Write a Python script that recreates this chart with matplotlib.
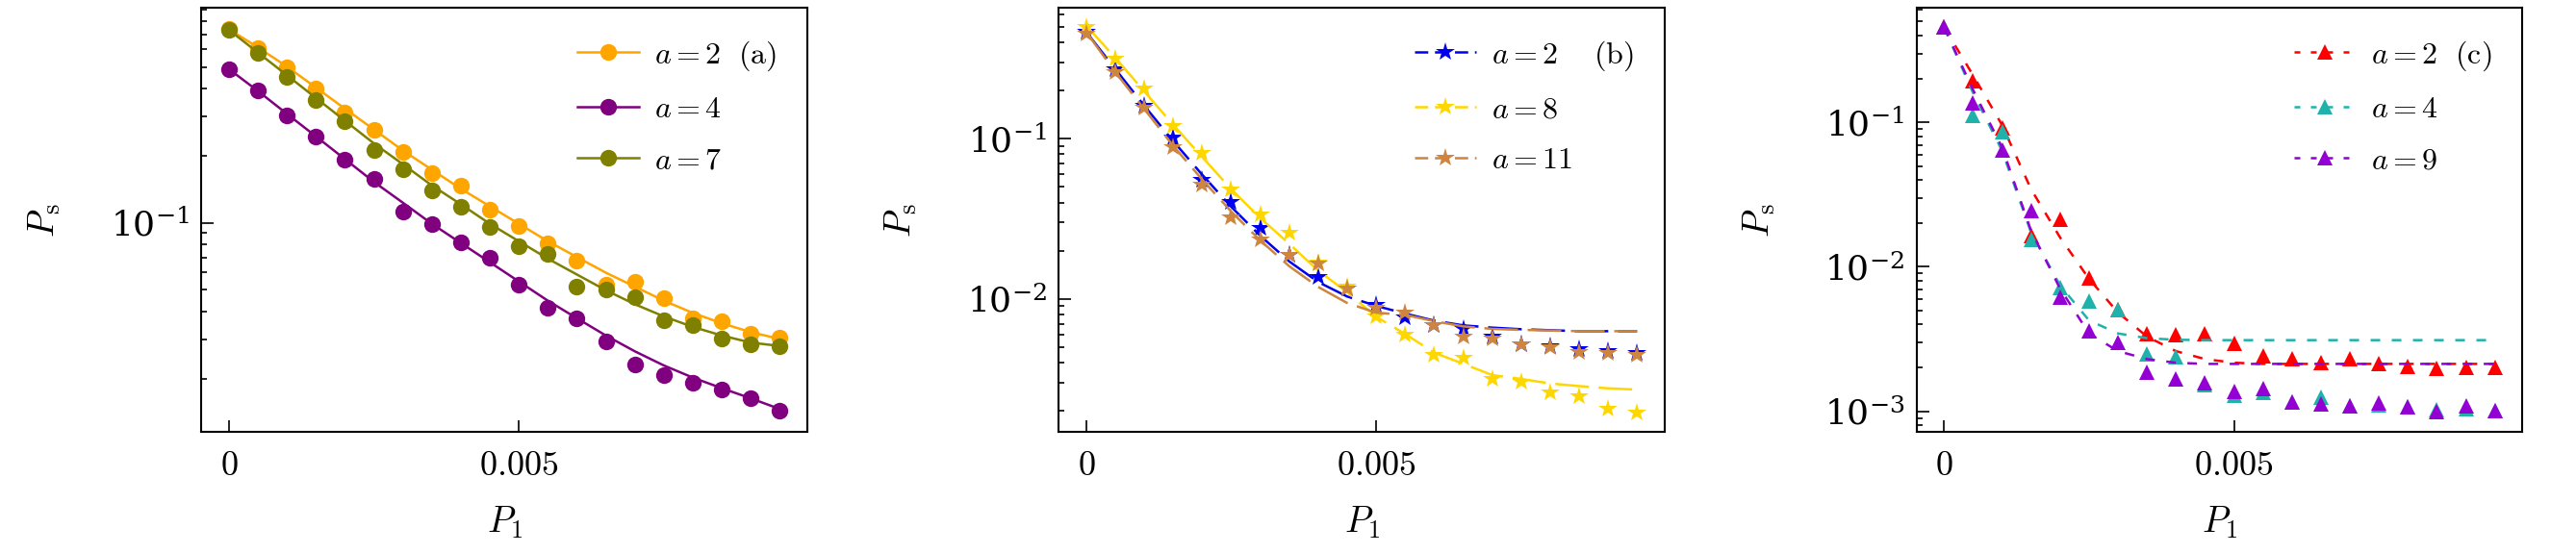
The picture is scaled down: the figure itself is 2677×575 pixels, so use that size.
import matplotlib
matplotlib.use('Agg')
import matplotlib.pyplot as plt
from matplotlib.lines import Line2D
from matplotlib.ticker import LogLocator, NullFormatter

plt.rcParams['mathtext.fontset'] = 'cm'
plt.rcParams['font.family'] = 'serif'

P1 = [0, 0.0005, 0.001, 0.0015, 0.002, 0.0025, 0.003, 0.0035, 0.004, 0.0045,
      0.005, 0.0055, 0.006, 0.0065, 0.007, 0.0075, 0.008, 0.0085, 0.009, 0.0095]

# panel (a): simulated points and fitted curves
a2_pts = [0.7385, 0.608, 0.497, 0.400, 0.311, 0.262, 0.207, 0.167, 0.147, 0.114,
          0.0965, 0.0805, 0.0677, 0.0526, 0.0545, 0.0459, 0.0373, 0.0360, 0.0317, 0.0304]
a2_fit = [0.7385, 0.612, 0.502, 0.404, 0.325, 0.262, 0.211, 0.173, 0.142, 0.1185,
          0.0989, 0.0826, 0.0702, 0.0597, 0.0517, 0.0447, 0.0394, 0.0354, 0.0323, 0.0301]
a4_pts = [0.489, 0.393, 0.303, 0.243, 0.1915, 0.158, 0.112, 0.0989, 0.0817, 0.0697,
          0.0526, 0.0416, 0.0373, 0.0293, 0.0231, 0.0207, 0.0191, 0.0178, 0.0163, 0.0143]
a4_fit = [0.489, 0.390, 0.308, 0.244, 0.193, 0.1525, 0.123, 0.0989, 0.0811, 0.0665,
          0.0545, 0.0447, 0.0373, 0.0312, 0.0265, 0.0229, 0.0202, 0.0181, 0.0163, 0.0146]
a7_pts = [0.733, 0.580, 0.450, 0.354, 0.285, 0.211, 0.174, 0.140, 0.1185, 0.0954,
          0.0782, 0.0728, 0.0517, 0.0504, 0.0464, 0.0364, 0.0347, 0.0301, 0.0285, 0.0280]
a7_fit = [0.733, 0.580, 0.459, 0.363, 0.287, 0.227, 0.183, 0.147, 0.121, 0.0989,
          0.0826, 0.069, 0.0586, 0.0498, 0.0431, 0.0380, 0.0341, 0.0312, 0.0290, 0.0280]

# panel (b)
b2_pts = [0.465, 0.273, 0.161, 0.1014, 0.0556, 0.0403, 0.0276, 0.0188, 0.01365, 0.0116,
          0.00920, 0.00766, 0.00683, 0.00651, 0.00581, 0.00518, 0.00506, 0.00483, 0.00472, 0.00461]
b2_fit = [0.465, 0.273, 0.161, 0.0967, 0.0596, 0.0376, 0.0248, 0.01714, 0.01274, 0.01034,
          0.00904, 0.00809, 0.00731, 0.00683, 0.00661, 0.00646, 0.00637, 0.00628, 0.00628, 0.00628]
b8_pts = [0.498, 0.317, 0.207, 0.121, 0.0813, 0.0484, 0.0338, 0.0260, 0.0168, 0.0119,
          0.00773, 0.00594, 0.00445, 0.00430, 0.00316, 0.00304, 0.00259, 0.00245, 0.00206, 0.00194]
b8_fit = [0.509, 0.321, 0.198, 0.122, 0.0769, 0.0484, 0.0320, 0.0221, 0.0150, 0.0110,
          0.00773, 0.00603, 0.00461, 0.00393, 0.00334, 0.00316, 0.00296, 0.00285, 0.00276, 0.00271]
b11_pts = [0.454, 0.261, 0.157, 0.0883, 0.0519, 0.0323, 0.0234, 0.0188, 0.01656, 0.0116,
           0.00879, 0.00820, 0.00683, 0.00581, 0.00568, 0.00518, 0.00499, 0.00466, 0.00461, 0.00445]
b11_fit = [0.465, 0.261, 0.1536, 0.0903, 0.0556, 0.0351, 0.0232, 0.0160, 0.01187, 0.00942,
           0.00820, 0.00794, 0.00725, 0.00673, 0.00649, 0.00640, 0.00634, 0.00628, 0.00628, 0.00628]

# panel (c)
c2_pts = [0.456, 0.193, 0.0921, 0.01645, 0.0215, 0.00841, 0.00508, 0.00346, 0.00341, 0.00343,
          0.00296, 0.00242, 0.00232, 0.00219, 0.00232, 0.00213, 0.00206, 0.00198, 0.00201, 0.00201]
c2_fit = [0.456, 0.212, 0.0959, 0.0345, 0.0160, 0.00826, 0.00483, 0.00329, 0.00261, 0.00230,
          0.00217, 0.00213, 0.00213, 0.00213, 0.00213, 0.00213, 0.00213, 0.00213, 0.00213, 0.00213]
c4_pts = [0.456, 0.112, 0.0858, 0.01556, 0.00723, 0.00578, 0.00508, 0.00251, 0.00240, 0.00153,
          0.00130, 0.00135, 0.00116, 0.00126, 0.00109, 0.00110, 0.00107, 0.00102, 0.00105, 0.00101]
c4_fit = [0.456, 0.160, 0.0637, 0.0173, 0.00745, 0.00426, 0.00346, 0.00321, 0.00313, 0.00311,
          0.00311, 0.00311, 0.00311, 0.00311, 0.00311, 0.00311, 0.00311, 0.00311, 0.00311, 0.00311]
c9_pts = [0.456, 0.1365, 0.0647, 0.0245, 0.00619, 0.00362, 0.00299, 0.00188, 0.00168, 0.00158,
          0.00137, 0.00144, 0.00116, 0.00112, 0.00109, 0.00114, 0.00107, 0.00099, 0.00109, 0.00101]
c9_fit = [0.456, 0.168, 0.0672, 0.0178, 0.00708, 0.00346, 0.00261, 0.00230, 0.00217, 0.00213,
          0.00213, 0.00213, 0.00213, 0.00213, 0.00213, 0.00213, 0.00213, 0.00213, 0.00213, 0.00213]

panels = [
    {'series': [(a2_pts, a2_fit, '#FFA500', r'$a=2\ \ \mathrm{(a)}$'),
                (a4_pts, a4_fit, '#800080', r'$a=4$'),
                (a7_pts, a7_fit, '#808000', r'$a=7$')],
     'marker': 'o', 'ms': 12.5, 'dashes': None, 'hdashes': None, 'ylim': (0.0115, 0.92)},
    {'series': [(b2_pts, b2_fit, '#0000EE', r'$a=2\quad\ \mathrm{(b)}$'),
                (b8_pts, b8_fit, '#FFD700', r'$a=8$'),
                (b11_pts, b11_fit, '#CD853F', r'$a=11$')],
     'marker': '*', 'ms': 15, 'dashes': (14, 4), 'hdashes': (5.5, 2.8), 'ylim': (0.00147, 0.657)},
    {'series': [(c2_pts, c2_fit, '#FF0000', r'$a=2\ \ \mathrm{(c)}$'),
                (c4_pts, c4_fit, '#20B2AA', r'$a=4$'),
                (c9_pts, c9_fit, '#9400D3', r'$a=9$')],
     'marker': '^', 'ms': 11, 'dashes': (4, 4.8), 'hdashes': (2.4, 4.4), 'ylim': (0.000718, 0.62)},
]

fig = plt.figure(figsize=(26.77, 5.75), dpi=100)
lefts = [0.0782, 0.4110, 0.7440]

for left, p in zip(lefts, panels):
    ax = fig.add_axes([left, 0.2186, 0.2352, 0.767])
    handles = []
    for pts, fit, color, label in p['series']:
        if p['dashes'] is None:
            ax.plot(P1, fit, color=color, lw=1.8)
        else:
            ax.plot(P1, fit, color=color, lw=1.8, dashes=p['dashes'])
        ax.plot(P1, pts, ls='none', marker=p['marker'], ms=p['ms'], color=color, mew=0)
        h = Line2D([], [], color=color, lw=1.8, marker=p['marker'], ms=p['ms'], mew=0)
        if p['hdashes'] is not None:
            h.set_dashes(p['hdashes'])
        handles.append(h)

    ax.set_yscale('log')
    ax.set_ylim(*p['ylim'])
    ax.set_xlim(-0.000475, 0.009975)
    ax.yaxis.set_major_locator(LogLocator(base=10, numticks=12))
    ax.yaxis.set_minor_locator(LogLocator(base=10, subs=range(2, 10), numticks=12))
    ax.yaxis.set_minor_formatter(NullFormatter())
    ax.set_xticks([0, 0.005])
    ax.set_xticklabels(['$0$', '$0.005$'])
    ax.tick_params(which='both', direction='in', top=False, right=False, width=1.2)
    ax.tick_params(which='major', length=9, labelsize=26)
    ax.tick_params(axis='x', pad=13)
    ax.tick_params(axis='y', pad=9)
    ax.tick_params(which='minor', length=4.5)
    for s in ax.spines.values():
        s.set_linewidth(1.5)

    ax.set_xlabel(r'$P_1$', fontsize=27)
    ax.set_ylabel(r'$P_\mathrm{s}$', fontsize=27)
    ax.xaxis.set_label_coords(0.5, -0.17)
    ax.yaxis.set_label_coords(-0.23, 0.5)

    ax.legend(handles=handles, labels=[s[3] for s in p['series']], loc='upper right',
              frameon=False, fontsize=23, handlelength=2.0, handletextpad=0.5,
              labelspacing=0.7, borderaxespad=0.6, numpoints=1)

fig.savefig('out.png', dpi=100)
